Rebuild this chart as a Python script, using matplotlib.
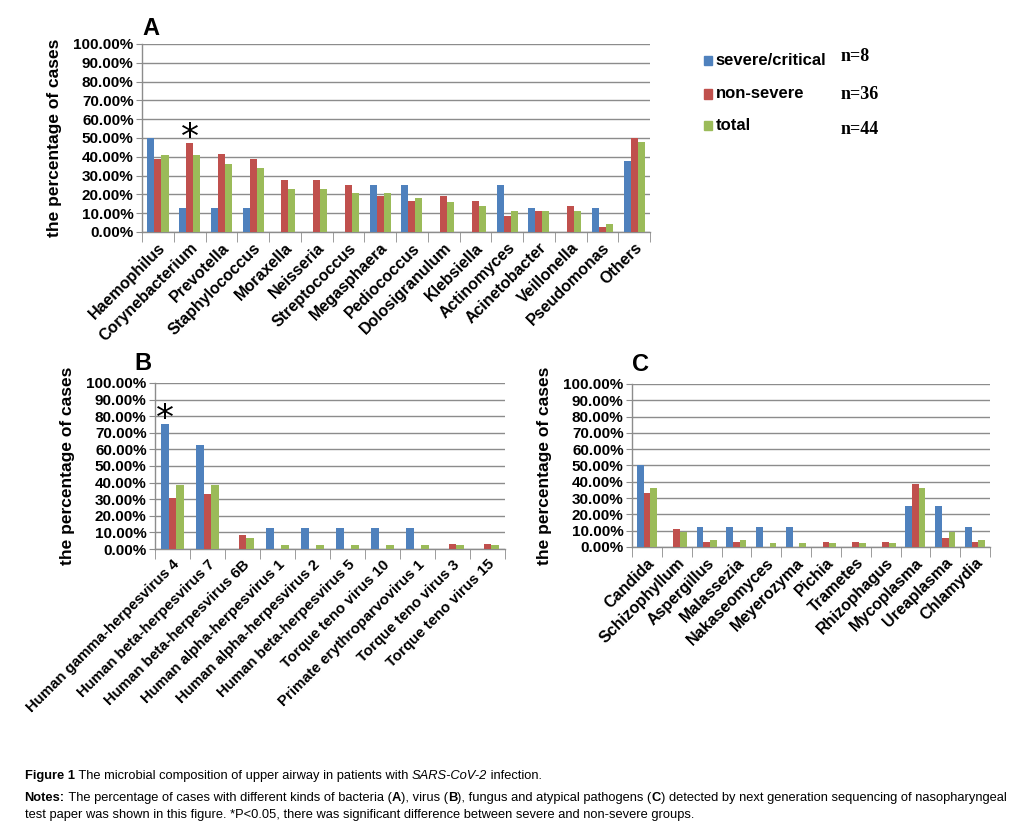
import numpy as np
import matplotlib.pyplot as plt
from matplotlib.ticker import FixedLocator, PercentFormatter

# bacteria (A)
bact_names = ['Haemophilus', 'Corynebacterium', 'Prevotella', 'Staphylococcus', 'Moraxella',
              'Neisseria', 'Streptococcus', 'Megasphaera', 'Pediococcus', 'Dolosigranulum',
              'Klebsiella', 'Actinomyces', 'Acinetobacter', 'Veillonella', 'Pseudomonas', 'Others']
bact_severe = [50.0, 12.5, 12.5, 12.5, 0, 0, 0, 25.0, 25.0, 0, 0, 25.0, 12.5, 0, 12.5, 37.5]
bact_nonsev = [38.9, 47.2, 41.7, 38.9, 27.8, 27.8, 25.0, 19.4, 16.7, 19.4, 16.7, 8.3, 11.1, 13.9, 2.8, 50.0]
bact_total = [40.9, 40.9, 36.4, 34.1, 22.7, 22.7, 20.5, 20.5, 18.2, 15.9, 13.6, 11.4, 11.4, 11.4, 4.5, 47.7]

# virus (B)
vir_names = ['Human gamma-herpesvirus 4', 'Human beta-herpesvirus 7', 'Human beta-herpesvirus 6B',
             'Human alpha-herpesvirus 1', 'Human alpha-herpesvirus 2', 'Human beta-herpesvirus 5',
             'Torque teno virus 10', 'Primate erythroparvovirus 1', 'Torque teno virus 3',
             'Torque teno virus 15']
vir_severe = [75.0, 62.5, 0, 12.5, 12.5, 12.5, 12.5, 12.5, 0, 0]
vir_nonsev = [30.6, 33.3, 8.3, 0, 0, 0, 0, 0, 2.8, 2.8]
vir_total = [38.6, 38.6, 6.8, 2.3, 2.3, 2.3, 2.3, 2.3, 2.3, 2.3]

# fungus and atypical pathogens (C)
fun_names = ['Candida', 'Schizophyllum', 'Aspergillus', 'Malassezia', 'Nakaseomyces', 'Meyerozyma',
             'Pichia', 'Trametes', 'Rhizophagus', 'Mycoplasma', 'Ureaplasma', 'Chlamydia']
fun_severe = [50.0, 0, 12.5, 12.5, 12.5, 12.5, 0, 0, 0, 25.0, 25.0, 12.5]
fun_nonsev = [33.3, 11.1, 2.8, 2.8, 0, 0, 2.8, 2.8, 2.8, 38.9, 5.6, 2.8]
fun_total = [36.4, 9.1, 4.5, 4.5, 2.3, 2.3, 2.3, 2.3, 2.3, 36.4, 9.1, 4.5]

group_labels = ['severe/critical', 'non-severe', 'total']
group_n = ['n=8', 'n=36', 'n=44']

c_blue = '#4F81BD'
c_red = '#C0504D'
c_green = '#9BBB59'
colors = [c_blue, c_red, c_green]
grid_c = '#8c8c8c'

plt.rcParams['font.family'] = ['Liberation Sans', 'DejaVu Sans']

fig = plt.figure(figsize=(10.22, 8.36), dpi=100)


def bar_panel(rect, names, series, letter, star_idx=None, star_series=0, fs_x=11.5,
              letter_pos=(0.0, 1.02)):
    ax = fig.add_axes(rect)
    x = np.arange(len(names))
    w = 1 / 4.5
    for k, (vals, col) in enumerate(zip(series, colors)):
        ax.bar(x + (k - 1) * w, vals, width=w, color=col, zorder=3)
    ax.set_xlim(-0.5, len(names) - 0.5)
    ax.set_ylim(0, 100)
    ax.yaxis.set_major_locator(FixedLocator(np.arange(0, 101, 10)))
    ax.yaxis.set_major_formatter(PercentFormatter(decimals=2))
    ax.grid(axis='y', color=grid_c, linewidth=1.0, zorder=0)
    for s in ['top', 'right']:
        ax.spines[s].set_visible(False)
    for s in ['left', 'bottom']:
        ax.spines[s].set_color(grid_c)
        ax.spines[s].set_linewidth(1.0)
    ax.set_xticks(x)
    ax.set_xticklabels(names, rotation=45, ha='right', rotation_mode='anchor',
                       fontsize=fs_x, fontweight='bold')
    ax.set_xticks(np.arange(len(names) + 1) - 0.5, minor=True)
    ax.tick_params(axis='x', which='major', length=0, pad=6)
    ax.tick_params(axis='x', which='minor', length=7, color=grid_c, direction='out')
    ax.tick_params(axis='y', length=4, color=grid_c, labelsize=11, pad=2)
    for t in ax.get_yticklabels():
        t.set_fontweight('bold')
    ax.set_ylabel('the percentage of cases', fontsize=12.5, fontweight='bold', labelpad=8)
    ax.text(letter_pos[0], letter_pos[1], letter, transform=ax.transAxes, fontsize=17,
            fontweight='bold', ha='left', va='bottom')
    if star_idx is not None:
        xs = star_idx + (star_series - 1) * w
        # asterisk drawn just above the marked bar
        ax.text(xs, series[star_series][star_idx] + 3, '*', fontsize=26, ha='center',
                va='center', fontfamily='DejaVu Sans')
    return ax


axA = bar_panel([0.139, 0.7225, 0.497, 0.2249], bact_names,
                [bact_severe, bact_nonsev, bact_total], 'A', star_idx=1, star_series=1)
axB = bar_panel([0.1517, 0.3433, 0.3425, 0.1986], vir_names,
                [vir_severe, vir_nonsev, vir_total], 'B', star_idx=0, star_series=0,
                fs_x=10.8, letter_pos=(-0.06, 1.05))
axC = bar_panel([0.6184, 0.3457, 0.3503, 0.195], fun_names,
                [fun_severe, fun_nonsev, fun_total], 'C', letter_pos=(0.0, 1.05))

# legend built by hand
leg_y = [0.928, 0.888, 0.850]
for lab, col, yy in zip(group_labels, colors, leg_y):
    fig.patches.append(plt.Rectangle((0.689, yy - 0.006), 0.008, 0.011, color=col,
                                     transform=fig.transFigure, figure=fig))
    fig.text(0.700, yy, lab, fontsize=12, fontweight='bold', va='center', ha='left')
for n, yy in zip(group_n, [0.932, 0.887, 0.845]):
    fig.text(0.822, yy, n, fontsize=13, fontweight='bold', va='center', ha='left',
             fontfamily='Liberation Serif')

# caption assembled from styled pieces
fig.canvas.draw()
renderer = fig.canvas.get_renderer()


def caption_line(x0, y, pieces, size):
    x = x0
    for txt, weight, style in pieces:
        t = fig.text(x, y, txt, fontsize=size, fontweight=weight, fontstyle=style,
                     va='baseline', ha='left')
        bb = t.get_window_extent(renderer)
        x += bb.width / fig.bbox.width
    return x


cap1 = [('Figure 1', 'bold', 'normal'),
        (' The microbial composition of upper airway in patients with ', 'normal', 'normal'),
        ('SARS-CoV-2', 'normal', 'italic'),
        (' infection.', 'normal', 'normal')]
cap2 = [('Notes:', 'bold', 'normal'),
        (' The percentage of cases with different kinds of bacteria (', 'normal', 'normal'),
        ('A', 'bold', 'normal'), ('), virus (', 'normal', 'normal'),
        ('B', 'bold', 'normal'), ('), fungus and atypical pathogens (', 'normal', 'normal'),
        ('C', 'bold', 'normal'),
        (') detected by next generation sequencing of nasopharyngeal', 'normal', 'normal')]
cap3 = [('test paper was shown in this figure. *P<0.05, there was significant difference '
         'between severe and non-severe groups.', 'normal', 'normal')]

# fit the long line into the page width
n_before = len(fig.texts)
end = caption_line(0.024, 0.042, cap2, 9)
for t in fig.texts[n_before:]:
    t.remove()
cap_size = 9 * (0.988 - 0.024) / (end - 0.024)

caption_line(0.024, 0.068, cap1, cap_size)
caption_line(0.024, 0.042, cap2, cap_size)
caption_line(0.024, 0.022, cap3, cap_size)

fig.savefig('out.png', dpi=100, facecolor='white')
